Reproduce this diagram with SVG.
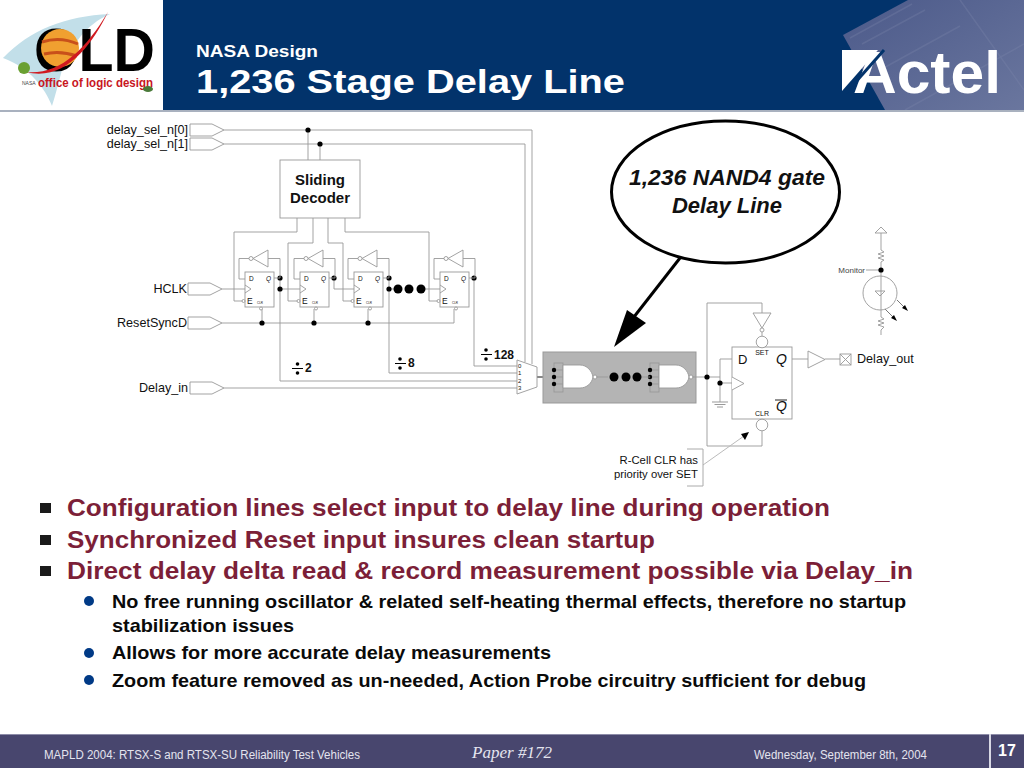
<svg xmlns="http://www.w3.org/2000/svg" width="1024" height="768" viewBox="0 0 1024 768">
<style>
text{font-family:"Liberation Sans",Arial,sans-serif;fill:#111}
.w{fill:none;stroke:#999;stroke-width:.9}
.s{fill:#fff;stroke:#999;stroke-width:.9}
.o{fill:none;stroke:#999;stroke-width:.9}
.d{fill:#000}
.l{font-size:12.600px}
.r{text-anchor:end}
.b1{font-size:23px;font-weight:bold;fill:#7c1f38}
.b2{font-size:19px;font-weight:bold;fill:#0a0a0a}
.sq{fill:#1a1a1a}
.ci{fill:#003a86}
.ft{font-size:12.500px;fill:#e4e4ee}
.div{font-size:12px;font-weight:bold}
</style>
<defs>
<g id="ff">
<rect class="s" width="29" height="35"/>
<path class="o" d="M0 13L6 17L0 21"/>
<circle class="s" cx="-1.5" cy="29" r="1.5"/>
<circle class="s" cx="16" cy="36.5" r="1.5"/>
<path class="s" d="M8 -13.5L23 -22V-5Z"/>
<circle class="s" cx="6" cy="-13.5" r="2"/>
<path class="w" d="M4 -13.5H-6V7H0M23 -13.5H35V6H29"/>
<text x="4" y="8.5" font-size="6.5">D</text>
<text x="21" y="8.5" font-size="6.5" font-style="italic">Q</text>
<text x="2" y="32" font-size="8.5">E</text>
<text x="12" y="32" font-size="3">CLR</text>
</g>
<polygon id="pin" class="s" points="0,-6 22,-6 34,0 22,6 0,6"/>
<g id="gate">
<rect class="o" width="9" height="29"/>
<path class="w" d="M0 7H9M0 14H9M0 21H9"/>
<path class="s" d="M9 2H26C33 2 38 8 39 14C38 20 33 25 26 25H9Z"/>
<circle class="s" cx="41" cy="14" r="2"/>
<circle class="d" cx="0" cy="7" r="2.2"/><circle class="d" cx="0" cy="14" r="2.2"/><circle class="d" cx="0" cy="21" r="2.2"/>
</g>
<linearGradient id="ph" x1="0" y1="0" x2="1" y2="1"><stop offset="0" stop-color="#4c5a8a"/><stop offset="1" stop-color="#6a769e"/></linearGradient>
</defs>

<rect width="1024" height="768" fill="#fff"/>

<g id="header">
<rect x="163" width="861" height="110" fill="#02336b"/>
<polygon points="843,35 908,0 1024,0 1024,110 885,110" fill="url(#ph)"/>
<path d="M850 38L912 4M862 44L925 10M880 70L960 26M905 110L1024 44M960 0L1024 90" stroke="#7d88ac" stroke-width="1.500" fill="none" opacity=".3"/>
<rect y="110" width="1024" height="2" fill="#a9b1bf"/>
<text x="196" y="57" font-size="16" font-weight="bold" textLength="122" lengthAdjust="spacingAndGlyphs" style="fill:#fff">NASA Design</text>
<text x="196" y="93" font-size="33" font-weight="bold" textLength="429" lengthAdjust="spacingAndGlyphs" style="fill:#fff">1,236 Stage Delay Line</text>
</g>

<g id="logo-old">
<path d="M3 58C30 30 65 16 110 14C85 25 72 45 62 70C58 85 54 100 52 106C45 88 30 68 3 58Z" fill="#c2dfe9"/>
<text x="34" y="71" font-size="62" font-weight="bold" textLength="121" lengthAdjust="spacingAndGlyphs" style="fill:#000">OLD</text>
<circle cx="60" cy="48" r="19" fill="#f0a030"/>
<path d="M42 42Q60 36 78 44M44 54Q60 50 77 56" stroke="#c8501a" stroke-width="3" fill="none"/>
<path d="M26 72C60 75 85 50 108 12C92 45 65 82 26 72Z" fill="#d01a20"/>
<circle cx="24" cy="68" r="6" fill="#6aa032"/>
<text x="22" y="85" font-size="5" style="fill:#444">NASA</text>
<text x="38" y="87" font-size="13" font-weight="bold" textLength="115" lengthAdjust="spacingAndGlyphs" style="fill:#c8161e">office of logic design</text>
<ellipse cx="148" cy="89" rx="5" ry="3" fill="#4a7a3a"/>
</g>

<g id="logo-actel">
<polygon points="842,50 878,50 842,91" fill="#fff"/>
<text x="853" y="93" font-size="60" font-weight="bold" textLength="148" lengthAdjust="spacingAndGlyphs" style="fill:#fff">Actel</text>
<path d="M846 93L884 50" stroke="#02336b" stroke-width="3" fill="none"/>
</g>

<g id="connectors">
<path class="w" d="M224 130H532V364M224 144H525V362M308 130V160M320 144V160"/>
<path class="w" d="M297 218V232H234V301H243M313 218V243H288V301H298M328 218V243H343V301H352M345 218V232H429V301H438"/>
<path class="w" d="M222 289H245M280 289H300M334 278V289H354M389 289H397M421 289H440"/>
<path class="w" d="M222 323H454V309M262 323V309M314 323V309M368 323V309"/>
<path class="w" d="M280 278V381H518M389 278V373H518M474 278V366H518M224 388H518"/>
<path d="M537 377H554" stroke="#111" fill="none"/>
<path class="w" d="M596 377H608M643 377H650M692 377H720M720 359H732M720 359V402M720 383H732M707 377V303H762V313M707 377V446H762V431M762 332V336M792 359H808M825 359H840"/>
<path d="M712 402H728M714.500 404.500H725.500M717 407H723" stroke="#999" fill="none"/>
<path class="w" d="M881 233V250M881 250L884 252L878 254L884 256L878 258L884 260L881 262V276M881 310V317L884 319L878 321L884 323L878 325L884 327L881 330V335M866 270H881"/>
<path d="M680 258L630 322" stroke="#000" stroke-width="3" fill="none"/>
<polygon points="627,310 646,323 614,347" fill="#000"/>
<path d="M703 465L744 436" stroke="#bbb" fill="none"/>
<polygon points="749,432 741,434 745,440" fill="#000"/>
<path d="M897 300L906 309M885 309L895 319" stroke="#777" fill="none"/>
<polygon points="908,311 902,308 905,305" fill="#000"/>
<polygon points="897,321 891,318 894,315" fill="#000"/>
<g class="d">
<circle cx="308" cy="130" r="2.600"/><circle cx="320" cy="144" r="2.600"/>
<circle cx="280" cy="278" r="2.600"/><circle cx="280" cy="289" r="2.600"/>
<circle cx="334" cy="278" r="2.600"/>
<circle cx="389" cy="278" r="2.600"/><circle cx="389" cy="289" r="2.600"/>
<circle cx="474" cy="278" r="2.600"/>
<circle cx="262" cy="323" r="2.600"/><circle cx="314" cy="323" r="2.600"/><circle cx="368" cy="323" r="2.600"/>
<circle cx="707" cy="377" r="2.600"/><circle cx="720" cy="383" r="2.600"/>
<circle cx="881" cy="270" r="2.600"/>
<circle cx="398" cy="289" r="4.500"/><circle cx="409" cy="289" r="4.500"/><circle cx="421" cy="289" r="4.500"/>
</g>
</g>

<g id="inputs">
<use href="#pin" x="190" y="130"/><text class="l r" x="188" y="134">delay_sel_n[0]</text>
<use href="#pin" x="190" y="144"/><text class="l r" x="188" y="148">delay_sel_n[1]</text>
<use href="#pin" x="188" y="289"/><text class="l r" x="187" y="293">HCLK</text>
<use href="#pin" x="188" y="323"/><text class="l r" x="187" y="327">ResetSyncD</text>
<use href="#pin" x="190" y="388"/><text class="l r" x="188" y="392">Delay_in</text>
</g>

<g id="decoder">
<rect class="s" x="280" y="160" width="80" height="58"/>
<text x="320" y="185" font-size="15" font-weight="bold" text-anchor="middle">Sliding</text>
<text x="320" y="203" font-size="15" font-weight="bold" text-anchor="middle">Decoder</text>
</g>

<g id="ff1"><use href="#ff" x="245" y="272"/></g>
<g id="ff2"><use href="#ff" x="300" y="272"/></g>
<g id="ff3"><use href="#ff" x="354" y="272"/></g>
<g id="ff4"><use href="#ff" x="440" y="272"/></g>

<g id="dividers">
<g class="d"><rect x="292" y="368" width="11" height="1"/><circle cx="297.500" cy="364" r="1.800"/><circle cx="297.500" cy="373" r="1.800"/></g>
<text class="div" x="305" y="372">2</text>
<g class="d"><rect x="395" y="363" width="11" height="1"/><circle cx="400" cy="359" r="1.800"/><circle cx="400" cy="368" r="1.800"/></g>
<text class="div" x="408" y="367">8</text>
<g class="d"><rect x="481" y="354" width="11" height="1"/><circle cx="486" cy="350" r="1.800"/><circle cx="486" cy="359" r="1.800"/></g>
<text class="div" x="494" y="359">128</text>
</g>

<g id="mux">
<polygon class="s" points="517,360 537,367 537,387 517,394"/>
<g font-size="6"><text x="518" y="368">0</text><text x="518" y="375">1</text><text x="518" y="383">2</text><text x="518" y="390">3</text></g>
</g>

<g id="delay-line">
<rect x="543" y="352" width="153" height="51" fill="#b4b4b4" stroke="#999"/>
<use href="#gate" x="554" y="363"/>
<use href="#gate" x="650" y="363"/>
<path class="w" d="M596 377H608M639 377H650M692 377H696"/>
<circle class="d" cx="614" cy="377" r="4.500"/><circle class="d" cx="626" cy="377" r="4.500"/><circle class="d" cx="637" cy="377" r="4.500"/>
</g>

<g id="output-ff">
<rect class="s" x="732" y="347" width="60" height="72"/>
<path class="s" d="M732 377L744 383.500L732 390"/>
<path class="s" d="M753 313H771L762 328Z"/>
<circle class="s" cx="762" cy="330" r="2"/>
<circle class="s" cx="762" cy="342" r="5.800"/>
<circle class="s" cx="762" cy="425" r="5.800"/>
<text x="762" y="355" font-size="7" text-anchor="middle">SET</text>
<text x="762" y="416" font-size="7" text-anchor="middle">CLR</text>
<text x="738" y="364" font-size="13">D</text>
<text x="776" y="364" font-size="14" font-style="italic">Q</text>
<text x="776" y="411" font-size="14" font-style="italic">Q</text>
<path d="M775 400H787" stroke="#222" fill="none"/>
</g>

<g id="output-pin">
<path class="s" d="M808 351L825 359.500L808 368Z"/>
<rect class="s" x="840" y="354" width="11" height="11"/>
<path class="o" d="M840 354L851 365M851 354L840 365"/>
<text class="l" x="857" y="363">Delay_out</text>
</g>

<g id="monitor">
<path class="s" d="M875 233L881 227L887 233Z"/>
<circle class="o" cx="880" cy="293" r="17"/>
<path class="o" d="M875 291H885L880 296ZM881 276V310"/>
<text x="865" y="273" font-size="8" text-anchor="end" style="fill:#444">Monitor</text>
</g>

<g id="callout">
<ellipse cx="725.500" cy="192" rx="114" ry="71" fill="#fff" stroke="#000" stroke-width="3"/>
<text x="727" y="185" font-size="22" font-weight="bold" font-style="italic" text-anchor="middle" textLength="196" lengthAdjust="spacingAndGlyphs">1,236 NAND4 gate</text>
<text x="727" y="213" font-size="22" font-weight="bold" font-style="italic" text-anchor="middle">Delay Line</text>
</g>

<g id="note">
<path d="M687 449H703V486H687" fill="none" stroke="#aaa"/>
<text x="698" y="464" font-size="11.300" text-anchor="end">R-Cell CLR has</text>
<text x="698" y="478" font-size="11.300" text-anchor="end">priority over SET</text>
</g>

<g id="bullets">
<rect class="sq" x="40" y="503" width="11" height="10"/>
<text class="b1" x="67" y="516" textLength="763" lengthAdjust="spacingAndGlyphs">Configuration lines select input to delay line during operation</text>
<rect class="sq" x="40" y="535" width="11" height="10"/>
<text class="b1" x="67" y="548" textLength="588" lengthAdjust="spacingAndGlyphs">Synchronized Reset input insures clean startup</text>
<rect class="sq" x="40" y="566" width="11" height="10"/>
<text class="b1" x="67" y="579" textLength="846" lengthAdjust="spacingAndGlyphs">Direct delay delta read &amp; record measurement possible via Delay_in</text>
<circle class="ci" cx="89" cy="601" r="5"/>
<text class="b2" x="112" y="608" textLength="794" lengthAdjust="spacingAndGlyphs">No free running oscillator &amp; related self-heating thermal effects, therefore no startup</text>
<text class="b2" x="112" y="632" textLength="182" lengthAdjust="spacingAndGlyphs">stabilization issues</text>
<circle class="ci" cx="89" cy="653" r="5"/>
<text class="b2" x="112" y="659" textLength="439" lengthAdjust="spacingAndGlyphs">Allows for more accurate delay measurements</text>
<circle class="ci" cx="89" cy="680" r="5"/>
<text class="b2" x="112" y="687" textLength="754" lengthAdjust="spacingAndGlyphs">Zoom feature removed as un-needed, Action Probe circuitry sufficient for debug</text>
</g>

<g id="footer">
<rect y="734" width="1024" height="34" fill="#48466e"/>
<rect y="734" width="1024" height="1" fill="#8d8ca8"/>
<rect x="989" y="734" width="2" height="34" fill="#d8d8e4"/>
<text class="ft" x="44" y="759" textLength="316" lengthAdjust="spacingAndGlyphs">MAPLD 2004: RTSX-S and RTSX-SU Reliability Test Vehicles</text>
<text x="472" y="758" font-size="17" font-style="italic" style="font-family:'Liberation Serif',serif;fill:#e4e4ee" textLength="80" lengthAdjust="spacingAndGlyphs">Paper #172</text>
<text class="ft" x="754" y="759" textLength="173" lengthAdjust="spacingAndGlyphs">Wednesday, September 8th, 2004</text>
<text x="998" y="756" font-size="16" font-weight="bold" style="fill:#fff">17</text>
</g>
</svg>
